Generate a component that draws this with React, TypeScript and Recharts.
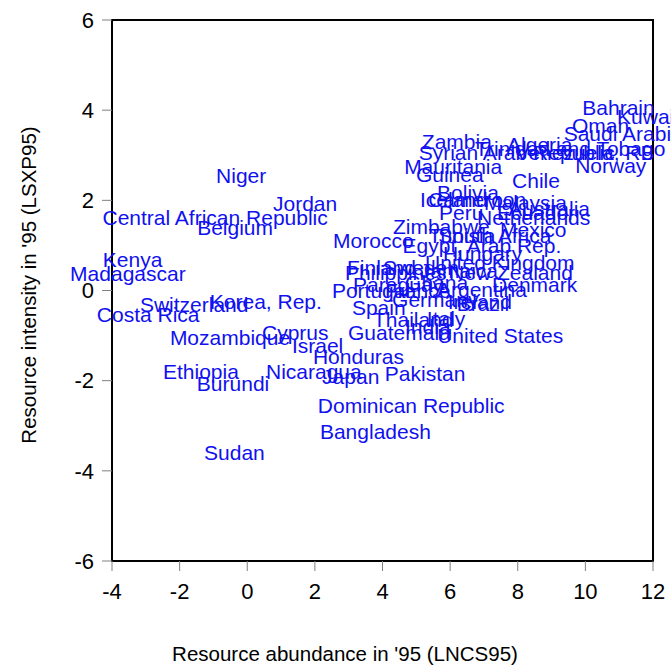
import { ScatterChart, Scatter, XAxis, YAxis, ReferenceArea } from "recharts";

// Country labels sit at (LNCS95, LSXP95); each value marks the centre of its label.
const COUNTRIES = [
  "Bahrain", "Kuwait", "Oman", "Saudi Arabia", "Trinidad and Tobago", "Venezuela, RB",
  "Algeria", "Syrian Arab Republic", "Zambia", "Mauritania", "Guinea", "Chile",
  "Bolivia", "Iceland", "Cameroon", "Malaysia", "Peru", "Ecuador", "Australia",
  "Netherlands", "Zimbabwe", "Mexico", "Morocco", "Tunisia", "South Africa",
  "Egypt, Arab Rep.", "Hungary", "United Kingdom", "Finland", "Sweden", "New Zealand",
  "Philippines", "Jamaica", "Paraguay", "Ghana", "Denmark", "Portugal", "France",
  "Argentina", "Germany", "Ireland", "Brazil", "Spain", "Italy", "Thailand", "India",
  "Guatemala", "United States", "Norway", "Niger", "Jordan", "Central African Republic",
  "Belgium", "Kenya", "Madagascar", "Switzerland", "Korea, Rep.", "Costa Rica",
  "Mozambique", "Cyprus", "Israel", "Honduras", "Ethiopia", "Burundi", "Nicaragua",
  "Japan", "Pakistan", "Dominican Republic", "Bangladesh", "Sudan",
];

const LNCS95 = [
  10.98, 11.87, 10.45, 11.12, 9.55, 9.99,
  8.65, 7.97, 6.2, 6.09, 5.99, 8.54,
  6.53, 6.11, 6.8, 8.23, 6.33, 8.54, 8.93,
  8.47, 5.74, 8.46, 3.73, 6.35, 7.32,
  6.94, 6.96, 7.47, 3.97, 5.14, 7.8,
  4.39, 6.26, 4.46, 5.6, 8.5, 3.66, 5.04,
  6.94, 5.56, 6.88, 6.97, 3.89, 5.88, 4.91, 5.34,
  4.5, 7.48, 10.75, -0.18, 1.71, -0.95,
  -0.36, -3.39, -3.53, -1.57, 0.55, -2.93,
  -0.51, 1.42, 2.08, 3.29, -1.37, -0.42, 1.97,
  3.06, 5.26, 4.85, 3.79, -0.38,
];

const LSXP95 = [
  4.07, 3.85, 3.67, 3.49, 3.16, 3.07,
  3.23, 3.05, 3.31, 2.74, 2.58, 2.45,
  2.18, 2.01, 2.01, 1.96, 1.74, 1.74, 1.81,
  1.63, 1.41, 1.36, 1.1, 1.23, 1.21,
  0.99, 0.83, 0.63, 0.52, 0.5, 0.41,
  0.39, 0.45, 0.14, 0.17, 0.14, 0.01, 0.01,
  0.03, -0.19, -0.25, -0.28, -0.37, -0.61, -0.65, -0.79,
  -0.94, -0.99, 2.78, 2.56, 1.92, 1.61,
  1.39, 0.68, 0.37, -0.3, -0.25, -0.54,
  -1.05, -0.94, -1.23, -1.47, -1.79, -2.07, -1.79,
  -1.9, -1.83, -2.54, -3.12, -3.6,
];

const X_TICKS = [-4, -2, 0, 2, 4, 6, 8, 10, 12];
const Y_TICKS = [-6, -4, -2, 0, 2, 4, 6];

const data = COUNTRIES.map((name, i) => ({ name, x: LNCS95[i], y: LSXP95[i] }));

const LABEL_BLUE = "#1010f0";
const TICK_GRAY = "#808080";

function CountryLabel(props: any) {
  const { cx, cy, payload } = props;
  if (cx == null || cy == null) return null;
  return (
    <text x={cx} y={cy} textAnchor="middle" dominantBaseline="central" fontSize={21} fill={LABEL_BLUE}>
      {payload.name}
    </text>
  );
}

// axis titles: positioned against the 112..653 x 20..561 plot box
function XTitle() {
  return (
    <text x={345} y={653} textAnchor="middle" dominantBaseline="central" fontSize={20.5} fill="#000">
      Resource abundance in '95 (LNCS95)
    </text>
  );
}

function YTitle() {
  const cx = 28;
  const cy = 285;
  return (
    <text x={cx} y={cy} transform={`rotate(-90 ${cx} ${cy})`} textAnchor="middle" dominantBaseline="central" fontSize={20.5} fill="#000">
      Resource intensity in '95 (LSXP95)
    </text>
  );
}

export default function App() {
  return (
    <div
      style={{
        position: "absolute",
        left: 0,
        top: 0,
        width: 671,
        height: 667,
        background: "#fff",
        fontFamily: "'Liberation Sans', Arial, sans-serif",
      }}
    >
      <ScatterChart width={671} height={667} margin={{ top: 20, right: 18, bottom: 0, left: 0 }}>
        <XAxis
          type="number"
          dataKey="x"
          domain={[-4, 12]}
          ticks={X_TICKS}
          height={106}
          tickSize={10}
          tickMargin={12}
          tick={{ fill: "#000", fontSize: 22 }}
          tickLine={{ stroke: TICK_GRAY }}
          axisLine={{ stroke: "#000", strokeWidth: 2 }}
          label={<XTitle />}
        />
        <YAxis
          type="number"
          dataKey="y"
          domain={[-6, 6]}
          ticks={Y_TICKS}
          width={112}
          tickSize={10}
          tickMargin={8}
          tick={{ fill: "#000", fontSize: 22 }}
          tickLine={{ stroke: TICK_GRAY }}
          axisLine={{ stroke: "#000", strokeWidth: 2 }}
          label={<YTitle />}
        />
        <ReferenceArea x1={-4} x2={12} y1={-6} y2={6} fill="none" stroke="#000" strokeWidth={2} fillOpacity={0} />
        <Scatter data={data} shape={<CountryLabel />} isAnimationActive={false} />
      </ScatterChart>
    </div>
  );
}
